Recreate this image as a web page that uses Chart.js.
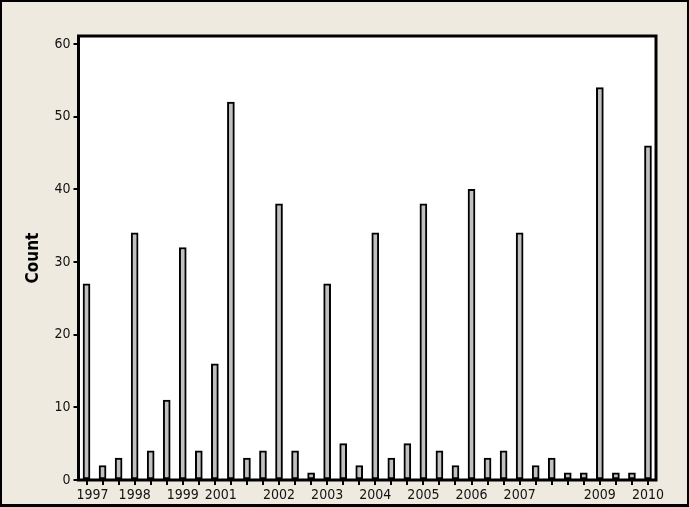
<!DOCTYPE html>
<html>
<head>
<meta charset="utf-8">
<script src="https://cdn.jsdelivr.net/npm/chart.js@4/dist/chart.umd.min.js"></script>
<style>
html,body{margin:0;padding:0;background:#EEEAE0;}
canvas{display:block;}
</style>
</head>
<body>
<canvas id="c" width="689" height="507"></canvas>
<script>
// Bar values (36 bars)
const counts = [27, 2, 3, 34, 4, 11, 32, 4, 16, 52, 3, 4, 38, 4, 1, 27, 5, 2, 34, 3, 5, 38, 4, 2, 40, 3, 4, 34, 2, 3, 1, 1, 54, 1, 1, 46];
// Axis labels shown under particular bars ('' = unlabelled tick)
const xLabels = ['1997','','','1998','','','1999','','2001','','','','2002','','','2003','','','2004','','','2005','','','2006','','','2007','','','','','2009','','','2010'];
const yTicks = [0, 10, 20, 30, 40, 50, 60];
const yTitle = 'Count';
// small horizontal nudges (leading spaces) for a few labels, as in the reference
const labelNudge = { 0: '   ', 8: '   ' };

const frame = {
  id: 'frame',
  beforeDraw(chart) {
    const ctx = chart.ctx;
    ctx.save();
    ctx.fillStyle = '#EEEAE0';
    ctx.fillRect(0, 0, chart.width, chart.height);
    ctx.fillStyle = '#FFFFFF';
    const a = chart.chartArea;
    ctx.fillRect(a.left, a.top, a.right - a.left, a.bottom - a.top);
    ctx.fillStyle = '#000';
    ctx.fillRect(0, 0, chart.width, 2);
    ctx.fillRect(0, 0, 2, chart.height);
    ctx.fillRect(chart.width - 2, 0, 2, chart.height);
    ctx.fillRect(0, chart.height - 3, chart.width, 3);
    ctx.restore();
  },
  afterDraw(chart) {
    const ctx = chart.ctx;
    const a = chart.chartArea;
    ctx.save();
    ctx.strokeStyle = '#000';
    ctx.lineWidth = 3;
    ctx.strokeRect(a.left, a.top, a.right - a.left, a.bottom - a.top);
    ctx.restore();
  }
};

new Chart(document.getElementById('c'), {
  type: 'bar',
  data: {
    labels: xLabels,
    datasets: [{
      data: counts,
      backgroundColor: '#C0C0C0',
      borderColor: '#000000',
      borderWidth: 2,
      borderSkipped: false,
      barThickness: 7
    }]
  },
  options: {
    responsive: false,
    animation: false,
    devicePixelRatio: 1,
    layout: { padding: { top: 36, right: 33, left: 0, bottom: 0 } },
    plugins: { legend: { display: false }, tooltip: { enabled: false } },
    scales: {
      x: {
        offset: true,
        grid: { offset: false, drawOnChartArea: false, drawTicks: true, tickLength: 5, color: '#000', lineWidth: 2 },
        border: { display: false },
        ticks: {
          autoSkip: false,
          maxRotation: 0,
          minRotation: 0,
          padding: 2,
          color: '#111',
          font: { family: 'DejaVu Sans Condensed', size: 14 },
          callback(v, i) { const l = xLabels[i]; return l ? (labelNudge[i] || '') + l : ''; }
        },
        afterFit(s) { s.height = 27; }
      },
      y: {
        min: 0,
        max: 61.1,
        grid: { drawOnChartArea: false, drawTicks: true, tickLength: 5, color: '#000', lineWidth: 2 },
        border: { display: false },
        afterBuildTicks(s) { s.ticks = yTicks.map(v => ({ value: v })); },
        ticks: {
          padding: 3,
          color: '#111',
          font: { family: 'DejaVu Sans Condensed', size: 14 }
        },
        title: {
          display: true,
          text: yTitle,
          color: '#000',
          padding: { top: 23, bottom: 0 },
          font: { family: 'DejaVu Sans Condensed', size: 17, weight: 'bold' }
        },
        afterFit(s) { s.width = 78.5; }
      }
    }
  },
  plugins: [frame]
});
</script>
</body>
</html>
